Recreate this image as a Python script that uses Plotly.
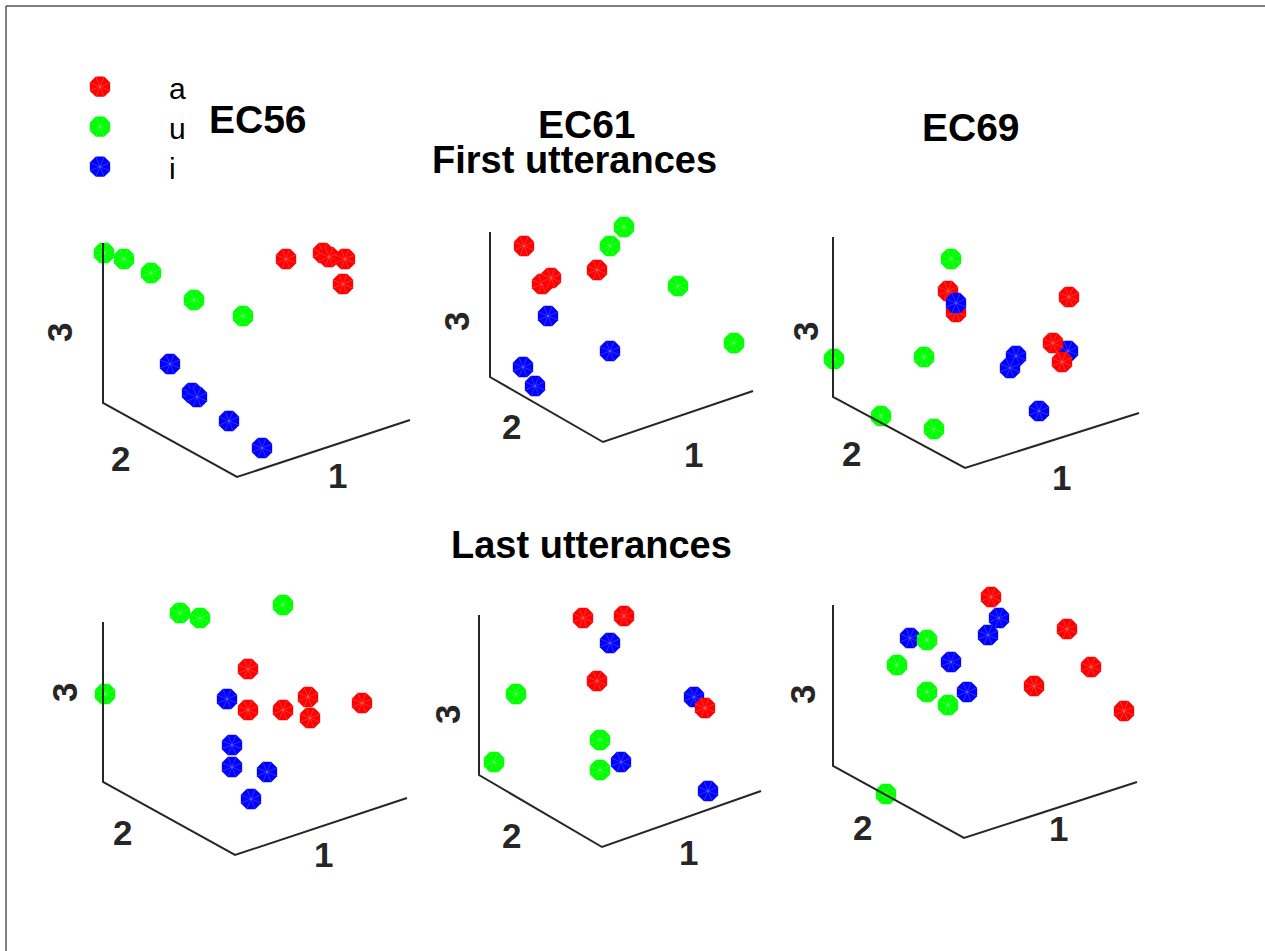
import plotly.graph_objects as go

W, H = 1265, 951

# ---------------------------------------------------------------- data
vowels = ["a", "u", "i"]
vowel_colors = {"a": "#ff0000", "u": "#00ff00", "i": "#0000ff"}

speakers = ["EC56", "EC61", "EC69"]
sessions = ["First utterances", "Last utterances"]

# Token positions on the view plane of each 3-D embedding
# (units = screen points, origin at the front-bottom corner of the box, y up).
# Lists are in drawing order (back to front).
ec56_first_vowel = ["u", "u", "u", "u", "u", "a", "a", "a", "a", "a", "i", "i", "i", "i", "i"]
ec56_first_x = [-133, -113, -86, -43, 6, 49, 86, 92, 108, 106, -67, -45, -40, -8, 25]
ec56_first_y = [224, 218, 204, 177, 161, 218, 224, 220, 218, 193, 113, 84, 80, 56, 29]

ec61_first_vowel = ["u", "u", "u", "u", "a", "a", "a", "a", "i", "i", "i", "i"]
ec61_first_x = [21, 7, 75, 131, -79, -61, -52, -6, -55, 7, -80, -68]
ec61_first_y = [215, 196, 156, 99, 196, 158, 164, 172, 126, 91, 75, 56]

ec69_first_vowel = ["u", "u", "u", "u", "u", "a", "a", "i", "i", "i", "i", "i", "a", "a", "a"]
ec69_first_x = [-14, -131, -41, -84, -31, -17, -9, -9, 51, 45, 74, 103, 104, 88, 97]
ec69_first_y = [209, 109, 111, 52, 39, 177, 156, 165, 112, 100, 57, 117, 171, 125, 106]

ec56_last_vowel = ["u", "u", "u", "u", "i", "i", "i", "i", "i", "a", "a", "a", "a", "a", "a"]
ec56_last_x = [-55, -35, 48, -130, -8, -3, -3, 32, 16, 13, 13, 48, 73, 75, 127]
ec56_last_y = [242, 237, 250, 161, 156, 110, 88, 83, 56, 186, 145, 145, 158, 137, 152]

ec61_last_vowel = ["u", "u", "u", "u", "i", "i", "i", "i", "a", "a", "a", "a"]
ec61_last_x = [-86, -108, -2, -2, 8, 19, 106, 92, -19, 22, -5, 103]
ec61_last_y = [153, 85, 107, 77, 204, 85, 56, 150, 229, 231, 166, 139]

ec69_last_vowel = ["i", "u", "u", "u", "u", "i", "i", "i", "i", "a", "a", "a", "a", "a", "u"]
ec69_last_x = [-54, -37, -67, -37, -16, 35, 24, -13, 3, 27, 103, 127, 70, 160, -78]
ec69_last_y = [200, 198, 173, 146, 133, 220, 203, 176, 146, 241, 209, 171, 152, 127, 44]

tokens = {
    ("EC56", 0): (ec56_first_vowel, ec56_first_x, ec56_first_y),
    ("EC61", 0): (ec61_first_vowel, ec61_first_x, ec61_first_y),
    ("EC69", 0): (ec69_first_vowel, ec69_first_x, ec69_first_y),
    ("EC56", 1): (ec56_last_vowel, ec56_last_x, ec56_last_y),
    ("EC61", 1): (ec61_last_vowel, ec61_last_x, ec61_last_y),
    ("EC69", 1): (ec69_last_vowel, ec69_last_x, ec69_last_y),
}

# ---------------------------------------------------------------- layout of the panels
# corner: page position (px) of the front-bottom corner of each box
# frame : axis lines (top of dim 3, bottom of dim 3, corner, end of dim 1)
# labels: positions of the dimension labels 1, 2, 3
PANELS = [
    dict(key=("EC56", 0), corner=(237, 477),
         frame=[(-134, 234), (-134, 74), (0, 0), (173, 57)],
         labels={"1": (100, 1), "2": (-117, 18), "3": (-177, 144)}),
    dict(key=("EC61", 0), corner=(603, 442),
         frame=[(-113, 210), (-113, 65), (0, 0), (150, 51)],
         labels={"1": (90, -13), "2": (-92, 15), "3": (-146, 120)}),
    dict(key=("EC69", 0), corner=(965, 468),
         frame=[(-132, 231), (-132, 71), (0, 0), (174, 55)],
         labels={"1": (96, -9), "2": (-114, 15), "3": (-160, 136)}),
    dict(key=("EC56", 1), corner=(235, 855),
         frame=[(-132, 233), (-132, 73), (0, 0), (172, 57)],
         labels={"1": (88, 0), "2": (-113, 22), "3": (-170, 162)}),
    dict(key=("EC61", 1), corner=(602, 847),
         frame=[(-123, 232), (-123, 72), (0, 0), (159, 56)],
         labels={"1": (86, -5), "2": (-91, 12), "3": (-155, 132)}),
    dict(key=("EC69", 1), corner=(964, 838),
         frame=[(-131, 233), (-131, 72), (0, 0), (173, 56)],
         labels={"1": (94, 10), "2": (-102, 11), "3": (-162, 143)}),
]

XR = (-185, 205)   # box extent around the corner, px
YR = (-45, 265)

FONT = "Liberation Sans, Arial, Helvetica, sans-serif"
AX_COLOR = "#262626"
MARKER_SIZE = 22
SPOKE = "rgba(255,255,255,0.32)"

fig = go.Figure()
layout_axes = {}
annotations = []


def axis_names(n):
    return ("x" if n == 1 else f"x{n}"), ("y" if n == 1 else f"y{n}")


def add_marker(xa, ya, x, y, color):
    fig.add_trace(go.Scatter(
        x=[x], y=[y], mode="markers", xaxis=xa, yaxis=ya, cliponaxis=False,
        marker=dict(symbol="octagon", size=MARKER_SIZE, color=color, line=dict(width=0)),
        showlegend=False, hoverinfo="skip"))
    fig.add_trace(go.Scatter(
        x=[x], y=[y], mode="markers", xaxis=xa, yaxis=ya, cliponaxis=False,
        marker=dict(symbol="asterisk-open", size=MARKER_SIZE - 3, angle=22.5, color=SPOKE,
                    line=dict(width=0.6, color=SPOKE)),
        showlegend=False, hoverinfo="skip"))


for n, p in enumerate(PANELS, start=1):
    xa, ya = axis_names(n)
    cx, cy = p["corner"]
    layout_axes["xaxis" if n == 1 else f"xaxis{n}"] = dict(
        domain=[(cx + XR[0]) / W, (cx + XR[1]) / W], range=list(XR),
        visible=False, fixedrange=True, anchor=ya)
    layout_axes["yaxis" if n == 1 else f"yaxis{n}"] = dict(
        domain=[(H - (cy - YR[0])) / H, (H - (cy - YR[1])) / H], range=list(YR),
        visible=False, fixedrange=True, anchor=xa)

    vowel, xs, ys = tokens[p["key"]]
    for v, x, y in zip(vowel, xs, ys):
        add_marker(xa, ya, x, y, vowel_colors[v])

    fx, fy = zip(*p["frame"])
    fig.add_trace(go.Scatter(
        x=list(fx), y=list(fy), mode="lines", xaxis=xa, yaxis=ya,
        line=dict(color=AX_COLOR, width=2), showlegend=False, hoverinfo="skip"))

    for txt, (lx, ly) in p["labels"].items():
        annotations.append(dict(
            text=txt, x=lx, y=ly, xref=xa, yref=ya, showarrow=False,
            xanchor="center", yanchor="middle", textangle=-90 if txt == "3" else 0,
            font=dict(family=FONT, size=35, color=AX_COLOR, weight="bold")))

# ---------------------------------------------------------------- vowel key
nl = len(PANELS) + 1
xa, ya = axis_names(nl)
layout_axes[f"xaxis{nl}"] = dict(domain=[80 / W, 200 / W], range=[0, 120],
                                 visible=False, fixedrange=True, anchor=ya)
layout_axes[f"yaxis{nl}"] = dict(domain=[1 - 186.7 / H, 1 - 66.7 / H], range=[2.5, -0.5],
                                 visible=False, fixedrange=True, anchor=xa)
for k, v in enumerate(vowels):
    add_marker(xa, ya, 20, k, vowel_colors[v])
    annotations.append(dict(
        text=v, x=87, y=k, xref=xa, yref=ya, showarrow=False, xanchor="left",
        yanchor="middle", yshift=-2, font=dict(family=FONT, size=30, color="#000000")))

# ---------------------------------------------------------------- titles
speaker_font = dict(family=FONT, size=39, color="#000000", weight="bold")
session_font = dict(family=FONT, size=38, color="#000000", weight="bold")
for name, (tx, ty) in zip(speakers, [(258, 119), (587, 125), (971, 127)]):
    annotations.append(dict(text=name, x=tx / W, y=1 - ty / H, xref="paper", yref="paper",
                            showarrow=False, xanchor="center", yanchor="middle", font=speaker_font))
for name, (tx, ty) in zip(sessions, [(574, 160), (591, 545)]):
    annotations.append(dict(text=name, x=tx / W, y=1 - ty / H, xref="paper", yref="paper",
                            showarrow=False, xanchor="center", yanchor="middle", font=session_font))

# page frame (top and left edges)
shapes = [
    dict(type="line", xref="paper", yref="paper", x0=6 / W, x1=1, y0=1 - 6 / H, y1=1 - 6 / H,
         line=dict(color="#000000", width=1)),
    dict(type="line", xref="paper", yref="paper", x0=6 / W, x1=6 / W, y0=0, y1=1 - 6 / H,
         line=dict(color="#000000", width=1)),
]

fig.update_layout(
    width=W, height=H, autosize=False,
    margin=dict(l=0, r=0, t=0, b=0, pad=0),
    paper_bgcolor="#ffffff", plot_bgcolor="rgba(0,0,0,0)",
    showlegend=False, annotations=annotations, shapes=shapes,
    **layout_axes,
)

fig.write_html("out.html", config={"displayModeBar": False})
